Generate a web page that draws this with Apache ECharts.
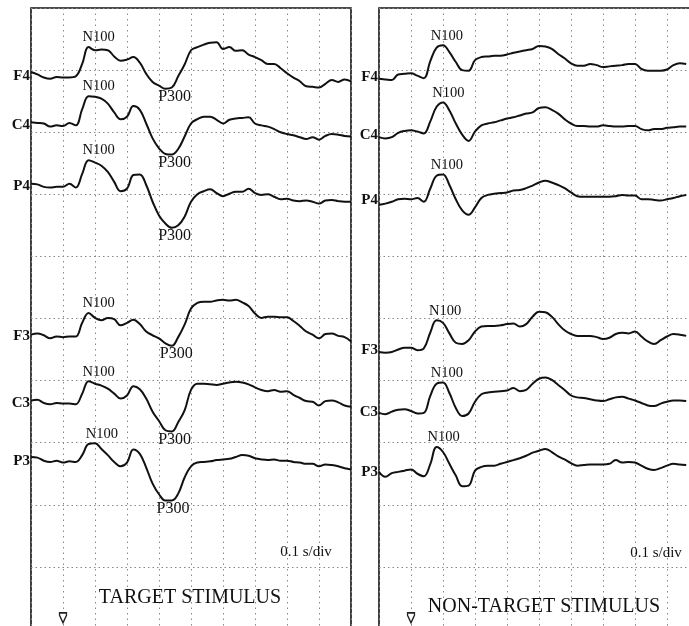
<!DOCTYPE html>
<html>
<head>
<meta charset="utf-8">
<script src="https://cdn.jsdelivr.net/npm/echarts@6/dist/echarts.min.js"></script>
<style>
html,body{margin:0;padding:0;background:#fff;}
#c{width:689px;height:626px;}
</style>
</head>
<body>
<div id="c"></div>
<script>
// ---------------- DATA ----------------
// time step between samples (s); every channel starts at t = 0
const timeStep = 0.02;
const channels = ['F4', 'C4', 'P4', 'F3', 'C3', 'P3'];
const timeTicks = [0, 0.1, 0.2, 0.3, 0.4, 0.5, 0.6, 0.7, 0.8, 0.9, 1.0];
const stimulusOnset = 0.1; // s

// Amplitudes relative to each channel's baseline (10 units = 1 vertical division, up = negative polarity)
// TARGET STIMULUS
const targetF4 = [0.7,0.3,-0.2,-0.4,-0.1,-0.2,-0.2,0,2.0,4.7,4.2,4.3,4.2,3.2,2.5,2.7,3.1,2.2,0.4,-0.9,-1.5,-2.0,-1.8,0,1.9,4.2,4.7,5.1,5.4,5.5,4.4,4.7,4.1,4.2,3.5,3.1,2.6,2.0,2.0,1.3,0.5,-0.2,-0.8,-1.6,-1.7,-1.8,-1.2,-0.6,-0.9,-0.5,-0.8];
const targetC4 = [0.4,0.3,0.2,-0.3,-0.1,-0.2,0.3,-0.1,2.5,4.6,4.5,4.2,3.4,2.0,0.9,1.3,3.0,2.4,0.2,-2.2,-3.8,-4.7,-4.8,-3.9,-1.9,0.2,0.9,1.3,1.3,0.8,0.2,0.8,1.0,1.1,1.2,0.2,-0.1,-0.3,-0.7,-1.2,-1.5,-1.7,-2.0,-2.3,-2.0,-2.4,-1.8,-1.5,-1.6,-1.8,-1.9];
const targetP4 = [0.4,0.3,-0.1,-0.2,-0.1,-0.1,0.4,-0.2,2.0,4.2,3.8,3.3,2.3,0.7,-0.8,-0.4,1.8,1.9,0.2,-2.5,-4.7,-6.0,-6.7,-6.3,-4.9,-2.5,-1.3,-0.8,-0.5,-1.1,-1.6,-1.2,-0.9,-0.9,-0.4,-1.1,-1.4,-1.3,-1.7,-2.1,-2.0,-2.3,-2.4,-2.3,-2.5,-2.8,-2.3,-2.2,-2.4,-2.5,-2.5];
const targetF3 = [0.3,0.5,0.2,-0.3,0,-0.1,0,0,2.2,3.8,3.0,2.6,3.0,2.8,1.8,2.2,2.7,2.0,0.8,0.2,-0.3,-1.1,-1.5,-0.1,1.9,4.5,5.4,5.6,5.6,5.8,5.9,5.8,5.9,5.5,4.9,3.7,3.0,3.2,3.2,3.1,3.1,2.5,1.7,0.8,0.3,-0.3,0.4,0.5,0.1,-0.1,-0.8];
const targetC3 = [0.5,0.6,0.1,-0.1,0.1,0,0,-0.1,1.6,3.6,3.2,2.9,2.4,1.6,0.8,1.3,2.8,2.3,0.8,-1.3,-2.8,-4.3,-4.5,-3.0,-1.1,2.2,3.2,3.2,3.1,3.0,3.2,3.4,3.5,3.4,3.1,2.6,2.2,2.0,2.2,1.9,2.0,1.4,0.9,0.4,0.3,-0.3,0.4,0.5,0.2,-0.3,-0.5];
const targetP3 = [0.7,0.6,0.1,-0.1,0.1,-0.2,0,-0.1,1.0,2.8,2.9,2.0,1.0,-0.1,-0.8,-0.2,1.9,1.2,-1.0,-3.6,-5.3,-6.3,-6.3,-5.2,-2.6,-0.8,-0.2,-0.1,0,0.2,0.3,0.4,0.7,1.0,0.9,0.5,0.3,0.2,0.3,0.1,0.1,-0.1,-0.2,-0.4,-0.4,-0.8,-0.5,-0.6,-0.8,-1.1,-1.3];

// NON-TARGET STIMULUS (visible up to 0.96 s)
const nonTargetF4 = [-0.2,-0.3,-0.4,0.5,0.6,0.7,0.3,-0.1,2.6,4.8,5.2,4.1,2.5,1.2,1.1,2.8,3.3,3.4,3.5,3.5,3.7,4.0,4.2,4.4,4.6,5.1,5.0,4.6,3.8,3.1,2.3,1.9,1.9,2.2,2.0,1.7,1.8,1.9,2.0,2.2,2.2,1.4,1.1,1.1,1.1,1.3,2.0,2.3,2.2];
const nonTargetC4 = [-0.3,-0.5,-0.3,0.4,0.7,0.8,0.6,0.3,2.2,4.6,5.3,4.0,1.9,0.1,-0.9,0.6,1.6,1.9,2.1,2.4,2.7,2.9,3.2,3.5,3.7,4.4,4.5,4.1,3.5,2.6,1.9,1.5,1.5,1.4,1.4,1.6,1.5,1.4,1.4,1.5,1.5,1.0,0.8,1.0,1.0,1.2,1.3,1.4,1.4];
const nonTargetP4 = [-0.8,-0.6,-0.3,0.1,0.2,0.1,0.3,-0.3,1.8,3.9,4.1,2.4,0.1,-1.7,-2.4,-1.2,0.3,0.8,1.0,1.1,1.2,1.5,1.6,1.9,2.3,2.8,3.1,2.8,2.4,1.9,1.2,0.6,0.5,0.5,0.5,0.5,0.5,0.6,0.8,0.7,0.7,0.1,0.1,0,-0.1,0.1,0.3,0.6,0.8];
const nonTargetF3 = [-0.3,-0.4,-0.3,0.1,0.4,0.4,0,0.3,2.8,4.8,4.4,2.7,1.2,1.0,1.6,3.0,3.8,3.9,3.9,4.0,4.2,4.3,3.8,4.2,5.4,6.2,6.1,5.4,4.2,3.2,2.6,2.3,2.3,2.3,2.1,1.8,2.0,2.6,2.8,2.7,3.0,2.2,1.4,1.0,1.6,2.2,2.6,2.5,2.3];
const nonTargetC3 = [-0.2,-0.4,0,0.3,0.4,0.1,-0.3,-0.2,2.5,4.5,4.7,3.0,0.6,-0.7,-0.3,1.6,2.8,3.1,3.2,3.3,3.4,3.8,3.3,3.5,4.5,5.3,5.5,5.1,4.3,3.5,2.6,2.3,2.2,2.0,1.8,1.7,2.0,2.3,2.4,2.1,1.8,1.4,1.0,0.9,1.3,1.6,1.8,1.8,1.7];
const nonTargetP3 = [0,-0.8,-0.2,0,0.2,0.4,-0.3,-0.7,1.2,4.0,3.2,1.3,-0.6,-2.3,-2.2,0.2,0.8,1.0,1.0,1.3,1.6,1.9,2.2,2.6,3.1,3.4,3.7,3.2,2.5,2.0,1.4,1.0,1.1,1.2,1.2,1.2,1.3,1.9,1.5,1.6,1.5,1.0,0.5,0.3,0.6,1.0,1.3,1.2,1.1];

// component latencies (s)
const targetN100Latency = [0.18, 0.18, 0.18, 0.18, 0.18, 0.19];
const targetP300Latency = [0.43, 0.43, 0.43, 0.435, 0.43, 0.425];
const nonTargetN100Latency = [0.19, 0.195, 0.19, 0.185, 0.19, 0.18];

// ---------------- LAYOUT / STYLE ----------------
const targetBaselines = [89.0, 81.2, 71.3, 47.1, 36.3, 27.0];
const nonTargetBaselines = [88.8, 79.5, 69.1, 44.9, 35.0, 25.3];
const markerLevel = 1.8;
const SERIF = '"Liberation Serif", "DejaVu Serif", serif';
const INK = '#111';

const panels = [
  {
    grid: {left: 31, top: 8, width: 320, height: 621},
    values: [targetF4, targetC4, targetP4, targetF3, targetC3, targetP3],
    baselines: targetBaselines,
    n100: targetN100Latency, p300: targetP300Latency,
    n100Offset: [10, 0]
  },
  {
    grid: {left: 379, top: 8, width: 320, height: 621},
    values: [nonTargetF4, nonTargetC4, nonTargetP4, nonTargetF3, nonTargetC3, nonTargetP3],
    baselines: nonTargetBaselines,
    n100: nonTargetN100Latency, p300: null,
    n100Offset: [7, 0]
  }
];

function extreme(vals, t0, t1, sign) {
  let best = -Infinity;
  vals.forEach((v, i) => {
    const t = i * timeStep;
    if (t >= t0 - 1e-9 && t <= t1 + 1e-9 && sign * v > best) best = sign * v;
  });
  return sign * best;
}

const grids = [], xAxes = [], yAxes = [], series = [];
panels.forEach((p, pi) => {
  grids.push(Object.assign({show: true, borderColor: INK, borderWidth: 1.6, backgroundColor: 'transparent',
    containLabel: false, outerBoundsMode: 'none'}, p.grid));
  xAxes.push({
    type: 'value', gridIndex: pi, min: timeTicks[0], max: timeTicks[timeTicks.length - 1], interval: 0.1,
    axisLine: {show: false}, axisTick: {show: false}, axisLabel: {show: false},
    splitLine: {show: true, lineStyle: {type: [1.5, 4], color: '#888', width: 1}}
  });
  yAxes.push({
    type: 'value', gridIndex: pi, min: 0, max: 100, interval: 10,
    axisLine: {show: false}, axisTick: {show: false}, axisLabel: {show: false},
    splitLine: {show: true, lineStyle: {type: [1.5, 3], color: '#888', width: 1}}
  });
  p.values.forEach((vals, ci) => {
    const base = p.baselines[ci];
    const data = vals.map((v, i) => [+(i * timeStep).toFixed(3), +(base + v).toFixed(2)]);
    const mp = [
      {coord: [0, base], label: {show: true, position: 'left', distance: 1, formatter: channels[ci],
        fontFamily: SERIF, fontSize: 15, fontWeight: 'bold', color: INK}},
      {coord: [p.n100[ci], base + extreme(vals, 0.12, 0.26, 1)], label: {show: true, position: 'top', distance: 2,
        offset: p.n100Offset, formatter: 'N100', fontFamily: SERIF, fontSize: 14.5, color: INK}}
    ];
    if (p.p300) {
      mp.push({coord: [p.p300[ci], base + extreme(vals, 0.36, 0.5, -1)], label: {show: true, position: 'bottom', distance: 0,
        offset: [6, 0], formatter: 'P300', fontFamily: SERIF, fontSize: 16, color: INK}});
    }
    if (ci === 0) {
      mp.push({coord: [stimulusOnset, markerLevel], symbol: 'path://M0,0L10,0L10,3L5,12L0,3Z', symbolSize: [7, 10],
        itemStyle: {color: '#fff', borderColor: '#222', borderWidth: 1.5}, label: {show: false}});
    }
    series.push({
      type: 'line', name: channels[ci], xAxisIndex: pi, yAxisIndex: pi, data: data,
      showSymbol: false, smooth: 0.4, lineStyle: {color: INK, width: 2}, silent: true,
      markPoint: {symbol: 'circle', symbolSize: 0, silent: true, animation: false,
        itemStyle: {color: 'transparent'}, data: mp}
    });
  });
});

function txt(text, x, y, size) {
  return {type: 'text', x: x, y: y, silent: true, z: 10,
    style: {text: text, font: size + 'px ' + SERIF, fill: INK, align: 'center', verticalAlign: 'middle',
      textAlign: 'center', textVerticalAlign: 'middle'}};
}

const chart = echarts.init(document.getElementById('c'));
chart.setOption({
  animation: false,
  backgroundColor: '#fff',
  grid: grids, xAxis: xAxes, yAxis: yAxes, series: series,
  graphic: [
    txt('0.1 s/div', 306, 552, 15),
    txt('0.1 s/div', 656, 553, 15),
    txt('TARGET STIMULUS', 190, 598, 20),
    txt('NON-TARGET STIMULUS', 544, 607, 20)
  ]
});
</script>
</body>
</html>
